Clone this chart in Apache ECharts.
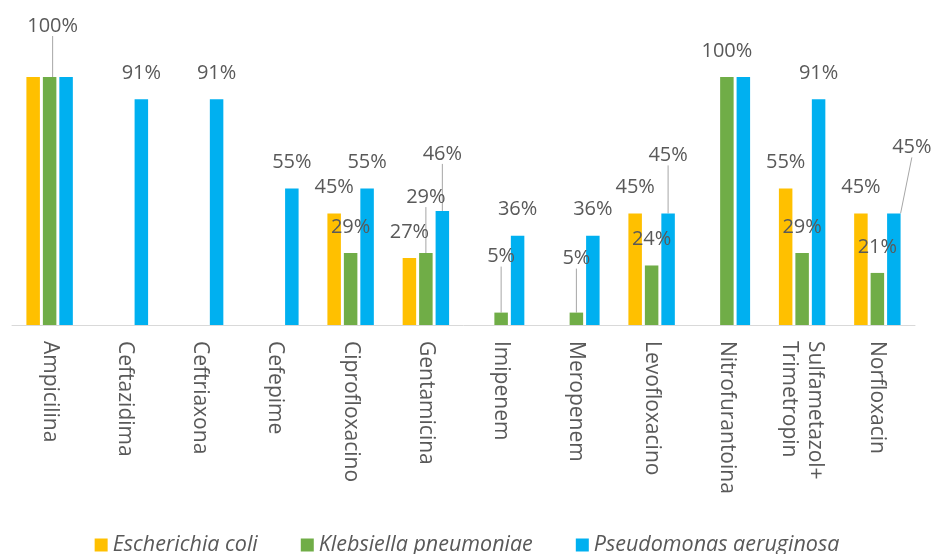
<!DOCTYPE html>
<html>
<head>
<meta charset="utf-8">
<script src="https://cdn.jsdelivr.net/npm/echarts@6/dist/echarts.min.js"></script>
<style>
html,body{margin:0;padding:0;background:#fff;}
#chart{width:934px;height:554px;}
</style>
</head>
<body>
<div id="chart"></div>
<script>
const categories = ['Ampicilina','Ceftazidima','Ceftriaxona','Cefepime','Ciprofloxacino','Gentamicina','Imipenem','Meropenem','Levofloxacino','Nitrofurantoina','Sulfametazol+\nTrimetropin','Norfloxacin'];
const seriesNames = ['Escherichia coli','Klebsiella pneumoniae','Pseudomonas aeruginosa'];
const ecoli = [100,0,0,0,45,27,0,0,45,0,55,45];
const kpneu = [100,0,0,0,29,29,5,5,24,100,29,21];
const paer  = [100,91,91,55,55,46,36,36,45,100,91,45];
// which data labels are shown in the reference
const ecoliLabel = [false,false,false,false,true,true,false,false,true,false,true,true];
const kpneuLabel = [true,false,false,false,true,true,true,true,true,true,true,true];
const paerLabel  = [false,true,true,true,true,true,true,true,true,false,true,true];

// label displacement (layout only) : [seriesIndex][dataIndex] -> [dx, dy]
const labelShift = [
  {},
  {0:[3,-25], 5:[0,-30], 6:[0,-30], 7:[0,-28]},
  {5:[0,-31], 8:[0,-32], 11:[18,-40]}
];
const colors = ['#FFC000','#70AD47','#00B0F0'];
const values = [ecoli, kpneu, paer];
const showLabels = [ecoliLabel, kpneuLabel, paerLabel];

const chart = echarts.init(document.getElementById('chart'));
const series = values.map((vals, si) => ({
  name: seriesNames[si],
  type: 'bar',
  barWidth: 13.5,
  barGap: '22%',
  itemStyle: {color: colors[si]},
  label: {
    show: true, position: 'top', distance: 16,
    fontFamily: 'Open Sans', fontSize: 20, color: '#595959',
    formatter: p => p.value + '%'
  },
  labelLine: {show: false, lineStyle: {color: '#a6a6a6', width: 1}},
  labelLayout: function (p) {
    const s = labelShift[si][p.dataIndex];
    return s ? {dx: s[0], dy: s[1]} : {};
  },
  data: vals.map((v, i) => {
    const item = {value: v, label: {show: showLabels[si][i] && v > 0}};
    if (labelShift[si][i]) item.labelLine = {show: true, lineStyle: {color: '#a6a6a6', width: 1}};
    return item;
  })
}));

chart.setOption({
  animation: false,
  color: colors,
  grid: {left: 12, right: 19, top: 77, bottom: 229, containLabel: false},
  legend: {
    bottom: -7, left: 'center', itemWidth: 13, itemHeight: 13, itemGap: 43,
    icon: 'rect',
    textStyle: {fontFamily: 'Open Sans', fontSize: 21.5, fontStyle: 'italic', color: '#595959'},
    data: seriesNames
  },
  xAxis: {
    type: 'category', data: categories,
    axisTick: {show: false},
    axisLine: {lineStyle: {color: '#d9d9d9', width: 1}},
    axisLabel: {rotate: -90, interval: 0, margin: 16, fontFamily: 'Open Sans', fontSize: 21, color: '#595959', lineHeight: 26}
  },
  yAxis: {type: 'value', min: 0, max: 100, show: false, splitLine: {show: false}},
  series: series
});
</script>
</body>
</html>
